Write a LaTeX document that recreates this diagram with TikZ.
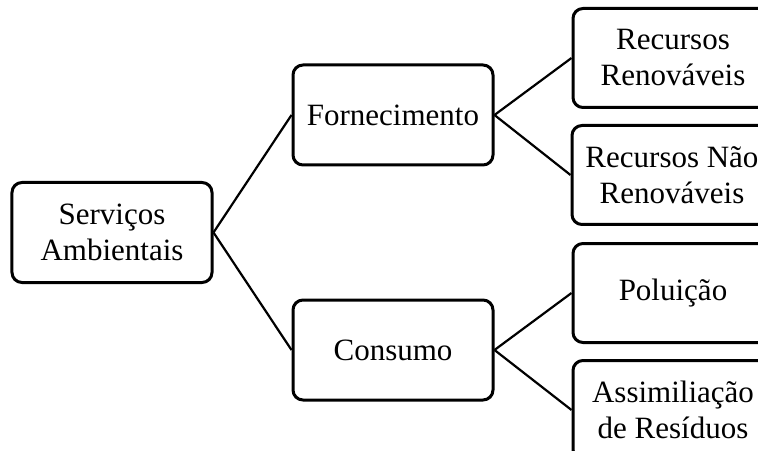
\documentclass[tikz,border=0pt]{standalone}
\usepackage{fontspec}
\setmainfont{Liberation Serif}
\usetikzlibrary{positioning}

\begin{document}
\begin{tikzpicture}[
    x=1pt, y=1pt,
    box/.style={draw, line width=3pt, rounded corners=10pt, align=center,
        minimum width=200pt, minimum height=100pt, inner sep=2pt,
        font=\fontsize{31}{36}\selectfont},
    leaf/.style={box, minimum height=99pt},
    link/.style={line width=2.2pt}
]
\clip (-112,232.5) rectangle (646,-217.5);

\node[box] (serv) {Serviços\\Ambientais};
\node[box, above right=14.5pt and 78pt of serv] (forn) {Fornecimento};
\node[box, below right=14.5pt and 78pt of serv] (cons) {Consumo};

\node[leaf, right=77pt of forn, yshift=57pt] (rr) {Recursos\\Renováveis};
\node[leaf, below=15pt of rr, xshift=-1pt] (rnr) {Recursos Não\\Renováveis};
\node[leaf, right=77pt of cons, yshift=57pt] (pol) {Poluição};
\node[leaf, below=15pt of pol] (ass) {Assimiliação\\de Resíduos};

\path[link]
(serv.east) edge (forn.west)
(serv.east) edge (cons.west)
(forn.east) edge (rr.west)
(forn.east) edge (rnr.west)
(cons.east) edge (pol.west)
(cons.east) edge (ass.west);
\end{tikzpicture}
\end{document}
